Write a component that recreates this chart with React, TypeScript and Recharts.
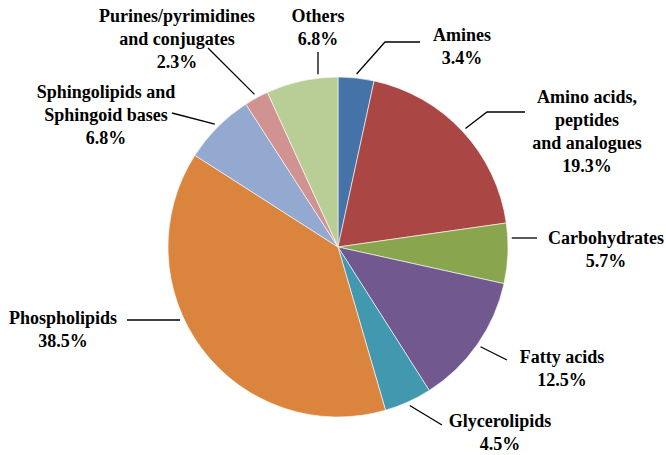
import { PieChart, Pie, Cell } from "recharts";

const categories = [
  "Amines",
  "Amino acids, peptides and analogues",
  "Carbohydrates",
  "Fatty acids",
  "Glycerolipids",
  "Phospholipids",
  "Sphingolipids and Sphingoid bases",
  "Purines/pyrimidines and conjugates",
  "Others",
];
const shares = [3.4, 19.3, 5.7, 12.5, 4.5, 38.5, 6.8, 2.3, 6.8];
const labelLines = [
  ["Amines"],
  ["Amino acids,", "peptides", "and analogues"],
  ["Carbohydrates"],
  ["Fatty acids"],
  ["Glycerolipids"],
  ["Phospholipids"],
  ["Sphingolipids and", "Sphingoid bases"],
  ["Purines/pyrimidines", "and conjugates"],
  ["Others"],
];
const colors = [
  "#4572A7",
  "#AA4643",
  "#89A54E",
  "#71588F",
  "#4198AF",
  "#DB843D",
  "#93A9CF",
  "#D19392",
  "#B9CD96",
];

const data = categories.map((name, i) => ({ name, value: shares[i] }));

// label placement relative to the pie centre; mode: a = from mid angle,
// h = level with leader end, v = straight down from leader end
type Layout = {
  tx: number;
  ty: number;
  ex: number;
  ey: number;
  elbow?: [number, number];
  mode: "a" | "h" | "v";
};
const layout: Layout[] = [
  { tx: 124, ty: -212, ex: 82, ey: -205, elbow: [47, -205], mode: "a" },
  { tx: 249, ty: -150, ex: 187, ey: -135, elbow: [149, -135], mode: "a" },
  { tx: 268, ty: -9, ex: 199, ey: -9, mode: "h" },
  { tx: 224, ty: 110, ex: 169, ey: 113, mode: "a" },
  { tx: 162, ty: 174, ex: 104, ey: 178, mode: "a" },
  { tx: -275, ty: 71, ex: -211, ey: 73, mode: "h" },
  { tx: -232, ty: -155, ex: -166, ey: -134, mode: "a" },
  { tx: -161, ty: -231, ex: -130, ey: -199, mode: "a" },
  { tx: -20, ty: -231, ex: -20, ey: -195, mode: "v" },
];

const RAD = Math.PI / 180;
const LINE_H = 23;
const FONT = "'Liberation Serif', 'Times New Roman', serif";

function renderLabel(props: any) {
  const { cx, cy, midAngle, outerRadius, index } = props;
  const l = layout[index];
  const r = outerRadius + 4;
  let sx: number;
  let sy: number;
  if (l.mode === "h") {
    const dy = l.ey;
    const dx = Math.sqrt(Math.max(r * r - dy * dy, 0));
    sx = cx + (l.ex < 0 ? -dx : dx);
    sy = cy + dy;
  } else if (l.mode === "v") {
    const dx = l.ex;
    const dy = Math.sqrt(Math.max(r * r - dx * dx, 0));
    sx = cx + dx;
    sy = cy + (l.ey < 0 ? -dy : dy);
  } else {
    sx = cx + r * Math.cos(-midAngle * RAD);
    sy = cy + r * Math.sin(-midAngle * RAD);
  }
  const pts = [[sx, sy]];
  if (l.elbow) pts.push([cx + l.elbow[0], cy + l.elbow[1]]);
  pts.push([cx + l.ex, cy + l.ey]);
  const lines = [...labelLines[index], `${shares[index].toFixed(1)}%`];
  return (
    <g key={`lbl-${index}`}>
      <polyline
        points={pts.map((p) => p.join(",")).join(" ")}
        fill="none"
        stroke="#000"
        strokeWidth={1.3}
      />
      <text
        x={cx + l.tx}
        y={cy + l.ty}
        textAnchor="middle"
        dominantBaseline="central"
        fontFamily={FONT}
        fontWeight={700}
        fontSize={18}
        fill="#000"
      >
        {lines.map((t, k) => (
          <tspan key={k} x={cx + l.tx} dy={k === 0 ? 0 : LINE_H}>
            {t}
          </tspan>
        ))}
      </text>
    </g>
  );
}

export default function App() {
  return (
    <div style={{ position: "absolute", left: 0, top: 0, background: "#fff" }}>
      <PieChart width={666} height={455}>
        <Pie
          data={data}
          dataKey="value"
          nameKey="name"
          cx={333}
          cy={242}
          outerRadius={170}
          startAngle={90}
          endAngle={-270}
          stroke="#ffffff"
          strokeWidth={0.6}
          label={renderLabel}
          labelLine={false}
          isAnimationActive={false}
        >
          {data.map((d, i) => (
            <Cell key={d.name} fill={colors[i]} />
          ))}
        </Pie>
      </PieChart>
    </div>
  );
}
